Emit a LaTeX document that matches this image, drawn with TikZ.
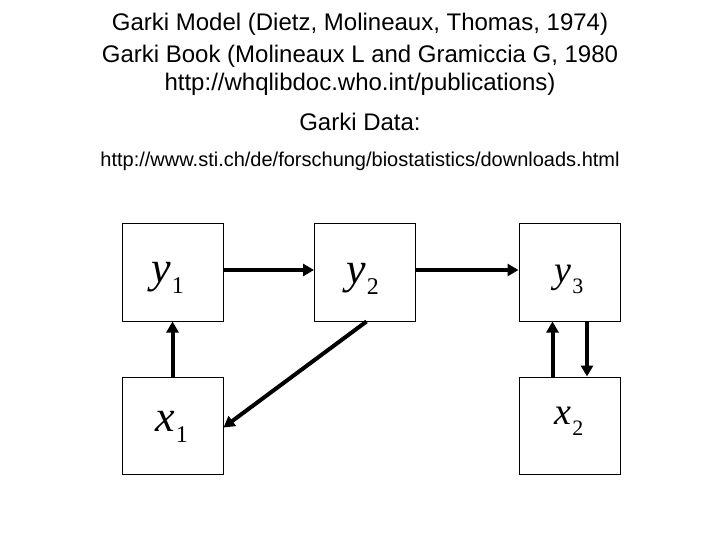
\documentclass[tikz,border=0pt]{standalone}
\usepackage{fontspec}
\setmainfont{Liberation Sans}
\newfontfamily\tms{Liberation Serif}
\usetikzlibrary{arrows.meta}
\newcommand\varlab[4]{{\tms\fontsize{#3}{#3}\selectfont\itshape #1}\hspace{1pt}\raisebox{-11pt}{\tms\fontsize{#4}{#4}\selectfont #2}}
\tikzset{
  box/.style={draw=black, line width=1pt, minimum width=101pt, minimum height=97pt, inner sep=0pt},
  lab/.style={anchor=base, inner sep=0pt},
  head/.style={font=\fontsize{24}{24}\selectfont, anchor=base, inner sep=0pt},
  arr/.style={line width=4pt, -{Triangle[length=11pt,width=12pt]}}
}
\begin{document}
\begin{tikzpicture}[x=1pt,y=-1pt]
\useasboundingbox (0,0) rectangle (720,540);
\fill[white] (0,0) rectangle (720,540);
\node[head] (t1) at (360,31) {Garki Model (Dietz, Molineaux, Thomas, 1974)};
\node[head] (t2) at (360,63) {Garki Book (Molineaux L and Gramiccia G, 1980};
\node[head] (t3) at (360,91) {http://whqlibdoc.who.int/publications)};
\node[head] (t4) at (360,131) {Garki Data:};
\node[head, font=\fontsize{20}{20}\selectfont] (t5) at (360,167) {http://www.sti.ch/de/forschung/biostatistics/downloads.html};
\node[box] (y1) at (172.5,272.5) {};
\node[box] (y2) at (365,272.5) {};
\node[box] (y3) at (569.5,272.5) {};
\node[box] (x1) at (172.5,425.5) {};
\node[box] (x2) at (569.5,425.5) {};
\node[lab] (ly1) at (167.5,282) {\varlab{y}{1}{44}{24}};
\node[lab] (ly2) at (362.5,283) {\varlab{y}{2}{44}{24}};
\node[lab] (ly3) at (569,282) {\varlab{y}{3}{38}{22}};
\node[lab] (lx1) at (171.5,431) {\varlab{x}{1}{44}{24}};
\node[lab] (lx2) at (569,424) {\varlab{x}{2}{38}{22}};
\draw[arr] ([yshift=2.5pt]y1.east) -- ([yshift=2.5pt]y2.west);
\draw[arr] ([yshift=2.5pt]y2.east) -- ([yshift=2.5pt]y3.west);
\draw[arr] (x1.north) -- (y1.south);
\draw[arr] ([xshift=1.5pt]y2.south) -- ([yshift=-2pt]x1.east);
\draw[arr] ([xshift=-17pt]x2.north) -- ([xshift=-17pt]y3.south);
\draw[arr] ([xshift=17.5pt]y3.south) -- ([xshift=17.5pt]x2.north);
\end{tikzpicture}
\end{document}
